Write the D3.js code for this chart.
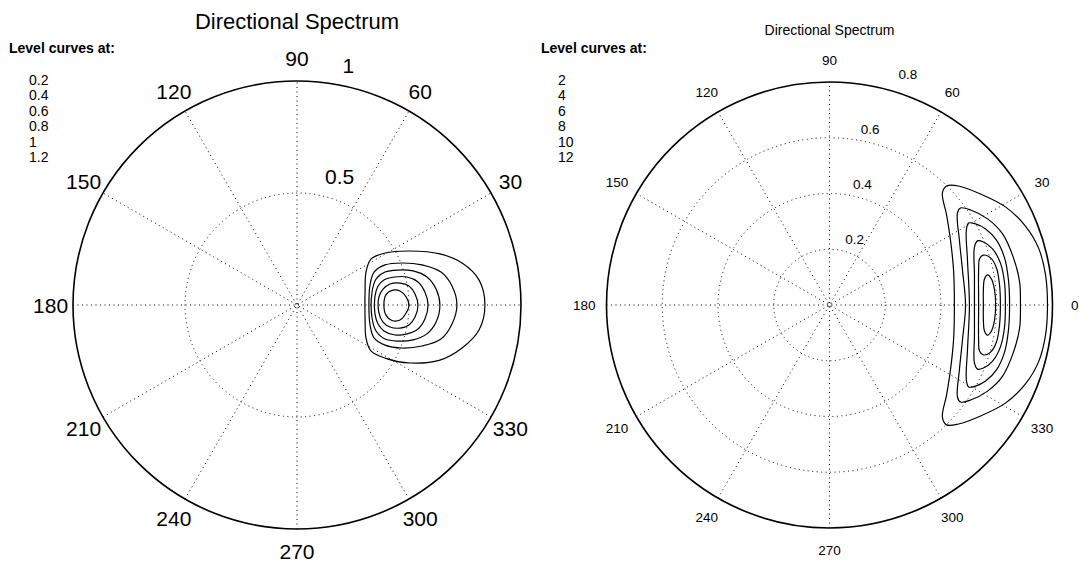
<!DOCTYPE html>
<html>
<head>
<meta charset="utf-8">
<script src="https://cdn.jsdelivr.net/npm/d3@7"></script>
<style>
  body { margin: 0; background: #fff; }
  text { font-family: "Liberation Sans", Arial, sans-serif; fill: #000; }
</style>
</head>
<body>
<div id="chart"></div>
<script>
// ---- data ----
var spokeAngles = [0, 30, 60, 90, 120, 150];

var leftLevels = ["0.2", "0.4", "0.6", "0.8", "1", "1.2"];
var leftRadTicks = [0.5, 1];
var leftAngleLabels = [30, 60, 90, 120, 150, 180, 210, 240, 270, 300, 330];

var rightLevels = ["2", "4", "6", "8", "10", "12"];
var rightRadTicks = [0.2, 0.4, 0.6, 0.8];
var rightAngleLabels = [0, 30, 60, 90, 120, 150, 180, 210, 240, 270, 300, 330];

// level curves, [x, y] in radial units (left plot, rmax = 1)
var leftContours = [
  // 0.2
  [[0.839,0],[0.8125,0.112],[0.737,0.1875],[0.638,0.228],[0.504,0.241],[0.393,0.232],[0.330,0.205],[0.308,0.147],[0.304,0.067],
   [0.304,-0.067],[0.308,-0.147],[0.330,-0.205],[0.393,-0.237],[0.504,-0.259],[0.638,-0.246],[0.737,-0.192],[0.8125,-0.112]],
  // 0.4
  [[0.714,0],[0.692,0.085],[0.643,0.147],[0.558,0.179],[0.469,0.1875],[0.393,0.179],[0.344,0.147],[0.326,0.089],[0.321,0],
   [0.326,-0.089],[0.344,-0.147],[0.393,-0.179],[0.469,-0.192],[0.558,-0.183],[0.643,-0.152],[0.692,-0.085]],
  // 0.6
  [[0.638,0],[0.621,0.071],[0.580,0.125],[0.518,0.152],[0.451,0.156],[0.393,0.147],[0.353,0.116],[0.335,0.058],
   [0.335,-0.058],[0.353,-0.116],[0.393,-0.152],[0.451,-0.161],[0.518,-0.156],[0.580,-0.129],[0.621,-0.076]],
  // 0.8
  [[0.585,0],[0.571,0.058],[0.540,0.103],[0.491,0.125],[0.4375,0.125],[0.388,0.112],[0.362,0.085],[0.348,0.040],
   [0.348,-0.040],[0.362,-0.085],[0.388,-0.116],[0.4375,-0.134],[0.491,-0.129],[0.540,-0.107],[0.571,-0.0625]],
  // 1
  [[0.540,0],[0.527,0.049],[0.500,0.085],[0.460,0.098],[0.415,0.094],[0.384,0.071],[0.366,0.036],
   [0.366,-0.036],[0.384,-0.076],[0.415,-0.098],[0.460,-0.103],[0.500,-0.089],[0.527,-0.054]],
  // 1.2
  [[0.500,0],[0.487,0.036],[0.460,0.0625],[0.424,0.065],[0.397,0.045],[0.388,0],
   [0.397,-0.045],[0.424,-0.069],[0.460,-0.067],[0.487,-0.036]]
];

// level curves for the right plot (rmax = 0.8)
var rightContours = [
  // 2
  [[0.782,0],[0.775,0.108],[0.750,0.204],[0.703,0.283],[0.631,0.352],[0.542,0.398],[0.463,0.427],[0.420,0.427],[0.405,0.402],
   [0.420,0.323],[0.434,0.233],[0.445,0.126],[0.448,0],[0.445,-0.126],[0.434,-0.233],[0.420,-0.323],[0.405,-0.402],
   [0.420,-0.430],[0.463,-0.427],[0.542,-0.398],[0.631,-0.352],[0.703,-0.283],[0.750,-0.204],[0.775,-0.108]],
  // 4
  [[0.685,0],[0.682,0.083],[0.660,0.169],[0.621,0.255],[0.567,0.309],[0.506,0.341],[0.470,0.348],[0.459,0.330],
   [0.466,0.233],[0.477,0.126],[0.488,0],[0.477,-0.126],[0.466,-0.233],[0.459,-0.330],[0.470,-0.348],
   [0.506,-0.341],[0.567,-0.309],[0.621,-0.255],[0.660,-0.169],[0.682,-0.083]],
  // 6
  [[0.646,0],[0.642,0.090],[0.628,0.169],[0.599,0.233],[0.560,0.273],[0.524,0.291],[0.499,0.294],[0.491,0.269],
   [0.495,0.161],[0.502,0],[0.495,-0.161],[0.491,-0.269],[0.499,-0.294],[0.524,-0.291],[0.560,-0.273],
   [0.599,-0.233],[0.628,-0.169],[0.642,-0.090]],
  // 8
  [[0.631,0],[0.628,0.079],[0.613,0.151],[0.585,0.201],[0.552,0.226],[0.531,0.230],[0.520,0.208],[0.520,0.108],
   [0.520,0],[0.520,-0.108],[0.520,-0.208],[0.531,-0.230],[0.552,-0.226],[0.585,-0.201],[0.613,-0.151],[0.628,-0.079]],
  // 10
  [[0.613,0],[0.610,0.072],[0.599,0.133],[0.578,0.169],[0.552,0.179],[0.538,0.165],[0.535,0.126],
   [0.535,0],[0.535,-0.126],[0.538,-0.165],[0.552,-0.179],[0.578,-0.169],[0.599,-0.133],[0.610,-0.072]],
  // 12
  [[0.596,0],[0.592,0.054],[0.581,0.093],[0.567,0.108],[0.556,0.093],[0.552,0.054],
   [0.552,0],[0.552,-0.054],[0.556,-0.093],[0.567,-0.108],[0.581,-0.093],[0.592,-0.054]]
];

var width = 1079, height = 562;
var rad = Math.PI / 180;

var svg = d3.select("#chart").append("svg")
    .attr("width", width)
    .attr("height", height);

function drawPolar(cfg) {
    var r = d3.scaleLinear().domain([0, cfg.rmax]).range([0, cfg.R]);
    var rinc = cfg.ticks[1] - cfg.ticks[0];

    var g = svg.append("g")
        .attr("transform", "translate(" + cfg.cx + "," + cfg.cy + ")");

    // dotted spokes through the centre
    g.selectAll(".spoke").data(spokeAngles).enter().append("line")
        .attr("x1", function(d) { return -r(cfg.rmax) * Math.cos(d * rad); })
        .attr("y1", function(d) { return r(cfg.rmax) * Math.sin(d * rad); })
        .attr("x2", function(d) { return r(cfg.rmax) * Math.cos(d * rad); })
        .attr("y2", function(d) { return -r(cfg.rmax) * Math.sin(d * rad); })
        .style("stroke", "#000")
        .style("stroke-width", 1)
        .style("stroke-dasharray", "1,3.5");

    // dotted rings
    g.selectAll(".ring").data(cfg.ticks.filter(function(t) { return t < cfg.rmax; })).enter().append("circle")
        .attr("r", function(d) { return r(d); })
        .style("fill", "none")
        .style("stroke", "#000")
        .style("stroke-width", 1)
        .style("stroke-dasharray", "1,3.5");

    // outer circle
    g.append("circle")
        .attr("r", r(cfg.rmax))
        .style("fill", "none")
        .style("stroke", "#000")
        .style("stroke-width", 1.6);

    // level curves
    var line = d3.line()
        .x(function(d) { return r(d[0]); })
        .y(function(d) { return -r(d[1]); })
        .curve(d3.curveCatmullRomClosed.alpha(0.5));

    g.selectAll(".contour").data(cfg.contours).enter().append("path")
        .attr("d", line)
        .style("fill", "none")
        .style("stroke", "#000")
        .style("stroke-width", 1.2);

    // radial tick labels at 82 degrees, like matlab polar()
    g.selectAll(".rlab").data(cfg.ticks).enter().append("text")
        .text(function(d) { return "\u00a0\u00a0" + d; })
        .attr("x", function(d) {
            var x = r(d + rinc / 20) * Math.cos(82 * rad);
            return d === cfg.rmax ? x + cfg.outerDx : x;
        })
        .attr("y", function(d) { return -r(d + rinc / 20) * Math.sin(82 * rad); })
        .attr("dy", "-0.21em")
        .style("font-size", cfg.fs + "px");

    // angle labels
    g.selectAll(".alab").data(cfg.angles).enter().append("text")
        .text(function(d) { return d; })
        .attr("x", function(d) { return r(cfg.rmax * 1.1) * Math.cos(d * rad); })
        .attr("y", function(d) { return -r(cfg.rmax * 1.1) * Math.sin(d * rad); })
        .attr("dy", "0.36em")
        .attr("text-anchor", "middle")
        .style("font-size", cfg.fs + "px");

    svg.append("text")
        .text("Directional Spectrum")
        .attr("x", cfg.cx)
        .attr("y", cfg.titleY)
        .attr("text-anchor", "middle")
        .style("font-size", cfg.titleFs + "px");

    // legend
    svg.append("text")
        .text("Level curves at:")
        .attr("x", cfg.legX)
        .attr("y", 53)
        .style("font-size", "14px")
        .style("font-weight", "bold");

    svg.selectAll(null).data(cfg.levels).enter().append("text")
        .text(function(d) { return d; })
        .attr("x", cfg.legX + cfg.legIndent)
        .attr("y", function(d, i) { return 84.5 + i * 15.5; })
        .style("font-size", "14px");
}

drawPolar({
    cx: 297, cy: 305, R: 224, rmax: 1, outerDx: 2,
    ticks: leftRadTicks, angles: leftAngleLabels, contours: leftContours,
    fs: 21, titleFs: 22, titleY: 29,
    legX: 9, legIndent: 20, levels: leftLevels
});

drawPolar({
    cx: 829.5, cy: 305, R: 223, rmax: 0.8, outerDx: 30,
    ticks: rightRadTicks, angles: rightAngleLabels, contours: rightContours,
    fs: 13.5, titleFs: 14, titleY: 35,
    legX: 541, legIndent: 17, levels: rightLevels
});
</script>
</body>
</html>
